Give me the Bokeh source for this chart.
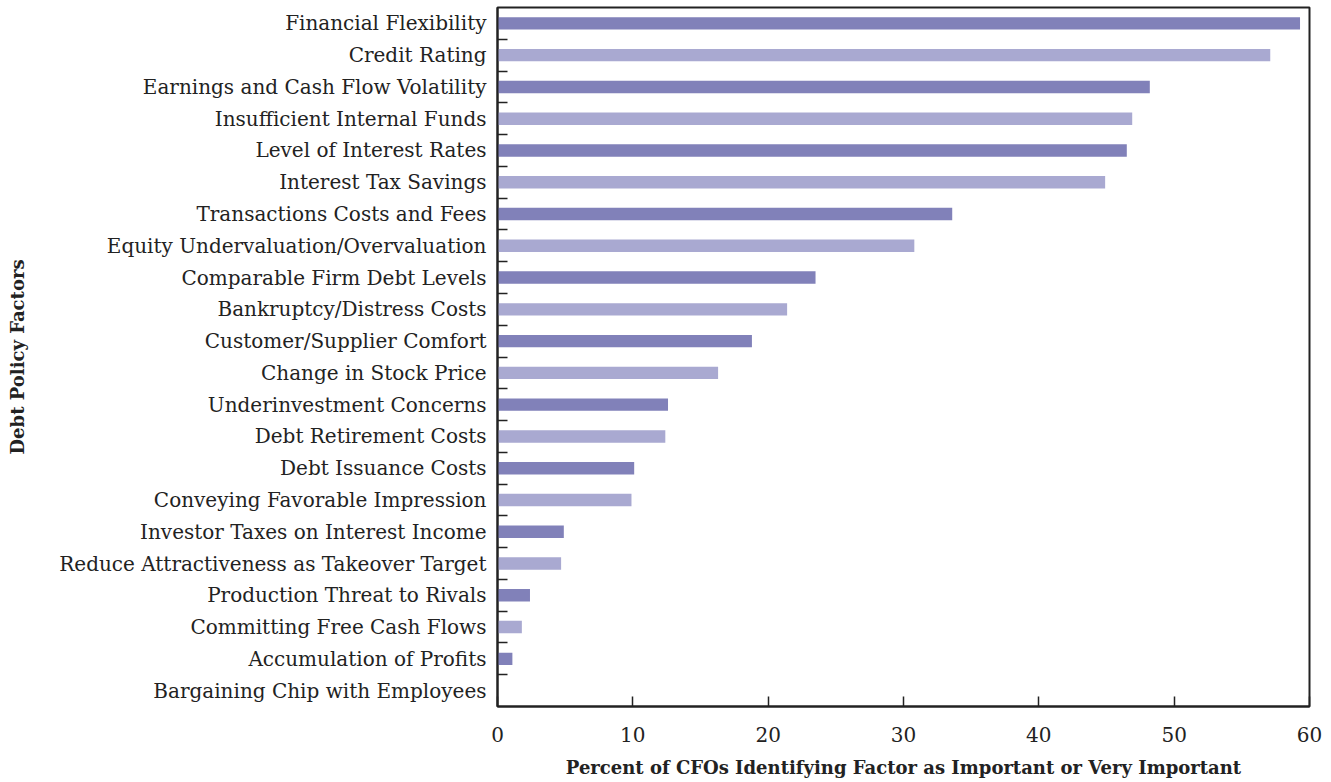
from bokeh.plotting import figure
from bokeh.models import Range1d, FixedTicker, ColumnDataSource
from bokeh.embed import file_html
from bokeh.resources import INLINE

factors = [
    "Financial Flexibility",
    "Credit Rating",
    "Earnings and Cash Flow Volatility",
    "Insufficient Internal Funds",
    "Level of Interest Rates",
    "Interest Tax Savings",
    "Transactions Costs and Fees",
    "Equity Undervaluation/Overvaluation",
    "Comparable Firm Debt Levels",
    "Bankruptcy/Distress Costs",
    "Customer/Supplier Comfort",
    "Change in Stock Price",
    "Underinvestment Concerns",
    "Debt Retirement Costs",
    "Debt Issuance Costs",
    "Conveying Favorable Impression",
    "Investor Taxes on Interest Income",
    "Reduce Attractiveness as Takeover Target",
    "Production Threat to Rivals",
    "Committing Free Cash Flows",
    "Accumulation of Profits",
    "Bargaining Chip with Employees",
]
percent = [59.3, 57.1, 48.2, 46.9, 46.5, 44.9, 33.6, 30.8, 23.5, 21.4, 18.8,
           16.3, 12.6, 12.4, 10.1, 9.9, 4.9, 4.7, 2.4, 1.8, 1.1, 0.0]
x_ticks = [0, 10, 20, 30, 40, 50, 60]

dark = "#8181b9"
light = "#a9a9d1"
n = len(factors)
ypos = list(range(n))
colors = [dark if i % 2 == 0 else light for i in range(n)]

src = ColumnDataSource(dict(y=ypos, right=percent, color=colors, name=factors))

W, H = 1327, 780
p = figure(width=W, height=H, output_backend="svg", toolbar_location=None,
           x_range=Range1d(0, 60), y_range=Range1d(n - 0.5, -0.5))
p.min_border_left = 497
p.min_border_right = 18
p.min_border_top = 7
p.min_border_bottom = 69

p.hbar(y="y", left=0, right="right", height=0.39, color="color", line_color=None, source=src)

p.grid.visible = False
p.outline_line_color = "#222222"
p.outline_line_width = 2
p.background_fill_color = "white"
p.border_fill_color = "white"

font = "DejaVu Serif"
# y axis
yax = p.yaxis[0]
yax.ticker = FixedTicker(ticks=ypos, minor_ticks=[i + 0.5 for i in range(n - 1)])
yax.major_label_overrides = {i: f for i, f in enumerate(factors)}
yax.major_tick_line_color = None
yax.minor_tick_in = 10
yax.minor_tick_out = 0
yax.minor_tick_line_color = "#222222"
yax.minor_tick_line_width = 1.5
yax.axis_line_color = "#222222"
yax.axis_line_width = 2
yax.major_label_text_font = font
yax.major_label_text_font_size = "20px"
yax.major_label_text_color = "#222222"
yax.major_label_standoff = 5
yax.axis_label = "Debt Policy Factors"
yax.axis_label_text_font = font
yax.axis_label_text_font_style = "bold"
yax.axis_label_text_font_size = "18px"
yax.axis_label_text_color = "#222222"
yax.axis_label_standoff = 28

xax = p.xaxis[0]
xax.ticker = FixedTicker(ticks=x_ticks, minor_ticks=[])
xax.major_tick_in = 10
xax.major_tick_out = 0
xax.major_tick_line_color = "#222222"
xax.major_tick_line_width = 1.5
xax.minor_tick_line_color = None
xax.axis_line_color = "#222222"
xax.axis_line_width = 2
xax.major_label_text_font = font
xax.major_label_text_font_size = "20px"
xax.major_label_text_color = "#222222"
xax.major_label_standoff = 20
xax.axis_label = "Percent of CFOs Identifying Factor as Important or Very Important"
xax.axis_label_text_font = font
xax.axis_label_text_font_style = "bold"
xax.axis_label_text_font_size = "18px"
xax.axis_label_text_color = "#222222"
xax.axis_label_standoff = 12

open("out.html", "w").write(file_html(p, INLINE))
